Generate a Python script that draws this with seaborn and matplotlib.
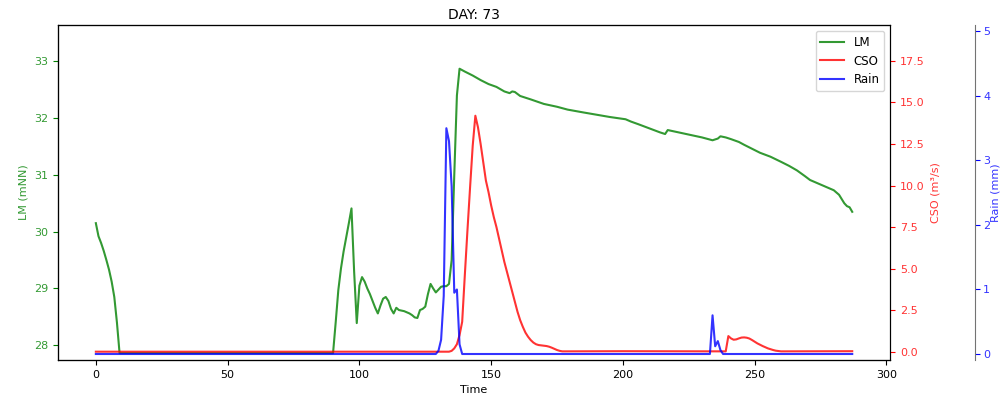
import matplotlib
matplotlib.use("Agg")
import matplotlib.pyplot as plt
import seaborn as sns

plt.rcParams.update({
    "font.family": "DejaVu Sans",
    "font.size": 8,
})

DAY = 73

# water level (LM, mNN) — vertices
lm_time = [0, 1, 2, 3, 4, 5, 6, 7, 8, 9, 90, 91, 92, 93, 94, 95, 96, 97, 98, 99,
           100, 101, 102, 103, 104, 105, 106, 107, 108, 109, 110, 111, 112, 113,
           114, 115, 116, 117, 118, 119, 120, 121, 122, 123, 124, 125, 126, 127,
           128, 129, 130, 131, 132, 133, 134, 135, 136, 137, 138, 140, 143, 146,
           149, 152, 155, 157, 158, 159, 161, 165, 170, 175, 179, 185, 190, 195,
           201, 203, 206, 210, 214, 216, 217, 220, 225, 230, 234, 236, 237, 239,
           241, 244, 246, 249, 252, 256, 260, 263, 266, 269, 271, 275, 280, 282,
           284, 285, 286, 287]
lm_level = [30.15, 29.92, 29.80, 29.66, 29.50, 29.33, 29.12, 28.85, 28.40, 27.86,
            27.86, 28.40, 28.97, 29.35, 29.65, 29.90, 30.15, 30.41, 29.30, 28.39,
            29.05, 29.20, 29.12, 29.00, 28.90, 28.78, 28.66, 28.56, 28.70, 28.82,
            28.85, 28.78, 28.64, 28.56, 28.66, 28.62, 28.61, 28.60, 28.58, 28.56,
            28.53, 28.49, 28.48, 28.62, 28.64, 28.68, 28.90, 29.08, 29.00, 28.93,
            28.98, 29.03, 29.04, 29.04, 29.08, 29.50, 31.00, 32.40, 32.87, 32.82,
            32.75, 32.67, 32.60, 32.55, 32.47, 32.44, 32.47, 32.46, 32.39, 32.33,
            32.25, 32.20, 32.15, 32.10, 32.06, 32.02, 31.98, 31.94, 31.89, 31.82,
            31.75, 31.72, 31.79, 31.76, 31.71, 31.66, 31.61, 31.64, 31.68, 31.66,
            31.63, 31.58, 31.53, 31.46, 31.39, 31.32, 31.23, 31.16, 31.08, 30.98,
            30.91, 30.83, 30.73, 30.65, 30.50, 30.45, 30.43, 30.35]

# combined sewer overflow (m³/s)
cso_time = [0, 134, 135, 136, 137, 138, 139, 140, 141, 142, 143, 144, 145, 146,
            147, 148, 149, 150, 151, 152, 153, 154, 155, 156, 157, 158, 159, 160,
            161, 162, 163, 164, 165, 166, 167, 168, 169, 170, 171, 172, 173, 174,
            175, 176, 177, 200, 239, 240, 241, 242, 243, 244, 245, 246, 247, 248,
            249, 250, 251, 252, 253, 254, 255, 256, 257, 258, 259, 260, 287]
cso_flow = [0.0, 0.0, 0.05, 0.2, 0.45, 1.0, 1.8, 4.6, 7.3, 9.9, 12.4, 14.2, 13.5,
            12.5, 11.4, 10.3, 9.6, 8.8, 8.1, 7.5, 6.8, 6.1, 5.4, 4.8, 4.2, 3.6,
            3.0, 2.4, 1.9, 1.5, 1.15, 0.9, 0.7, 0.55, 0.45, 0.4, 0.38, 0.36, 0.34,
            0.3, 0.24, 0.17, 0.1, 0.05, 0.02, 0.03, 0.02, 0.94, 0.8, 0.72, 0.74,
            0.8, 0.85, 0.86, 0.84, 0.79, 0.7, 0.6, 0.5, 0.42, 0.34, 0.27, 0.2,
            0.15, 0.1, 0.06, 0.04, 0.02, 0.03]

# rainfall (mm)
rain_time = [0, 129, 130, 131, 132, 133, 134, 135, 136, 137, 138, 139, 233, 234,
             235, 236, 237, 238, 287]
rain_depth = [0.0, 0.0, 0.05, 0.22, 0.9, 3.5, 3.3, 2.6, 0.95, 1.0, 0.15, 0.0, 0.0,
              0.6, 0.12, 0.2, 0.06, 0.0, 0.0]

fig, ax1 = plt.subplots(figsize=(10.04, 3.97), dpi=100)
fig.subplots_adjust(left=0.0578, right=0.8865, bottom=0.0932, top=0.937)
ax2 = ax1.twinx()
ax3 = ax1.twinx()
ax3.spines["right"].set_position(("axes", 1.102))
ax3.spines["right"].set_color("0.45")

sns.lineplot(x=lm_time, y=lm_level, ax=ax1, color="green", alpha=0.8,
             linewidth=1.5, label="LM")
sns.lineplot(x=cso_time, y=cso_flow, ax=ax2, color="red", alpha=0.8,
             linewidth=1.5, label="CSO")
sns.lineplot(x=rain_time, y=rain_depth, ax=ax3, color="blue", alpha=0.8,
             linewidth=1.5, label="Rain")

for ax in (ax1, ax2, ax3):
    if ax.get_legend() is not None:
        ax.get_legend().remove()

ax1.set_ylim(27.74, 33.64)
ax2.set_ylim(-0.5, 19.66)
ax3.set_ylim(-0.093, 5.1)
ax3.set_yticks([0, 1, 2, 3, 4, 5])

ax1.set_xlabel("Time")
ax1.set_ylabel("LM (mNN)", color="green", alpha=0.8)
ax2.set_ylabel("CSO (m³/s)", color="red", alpha=0.8)
# sits right at the figure edge, as in the reference
ax3.set_ylabel("Rain (mm)", color="blue", alpha=0.8, labelpad=0)
ax1.tick_params(axis="y", colors="green")
ax2.tick_params(axis="y", colors="red")
ax3.tick_params(axis="y", colors="blue", pad=2.5)
for ax in (ax1, ax2, ax3):
    for lab in ax.get_yticklabels():
        lab.set_alpha(0.8)

ax1.set_title(f"DAY: {DAY}", fontsize=10, pad=4)

handles = []
labels = []
for ax in (ax1, ax2, ax3):
    h, l = ax.get_legend_handles_labels()
    handles += h
    labels += l
ax3.legend(handles, labels, loc="upper right", fontsize=8.5)

fig.savefig("out.png", dpi=100)
